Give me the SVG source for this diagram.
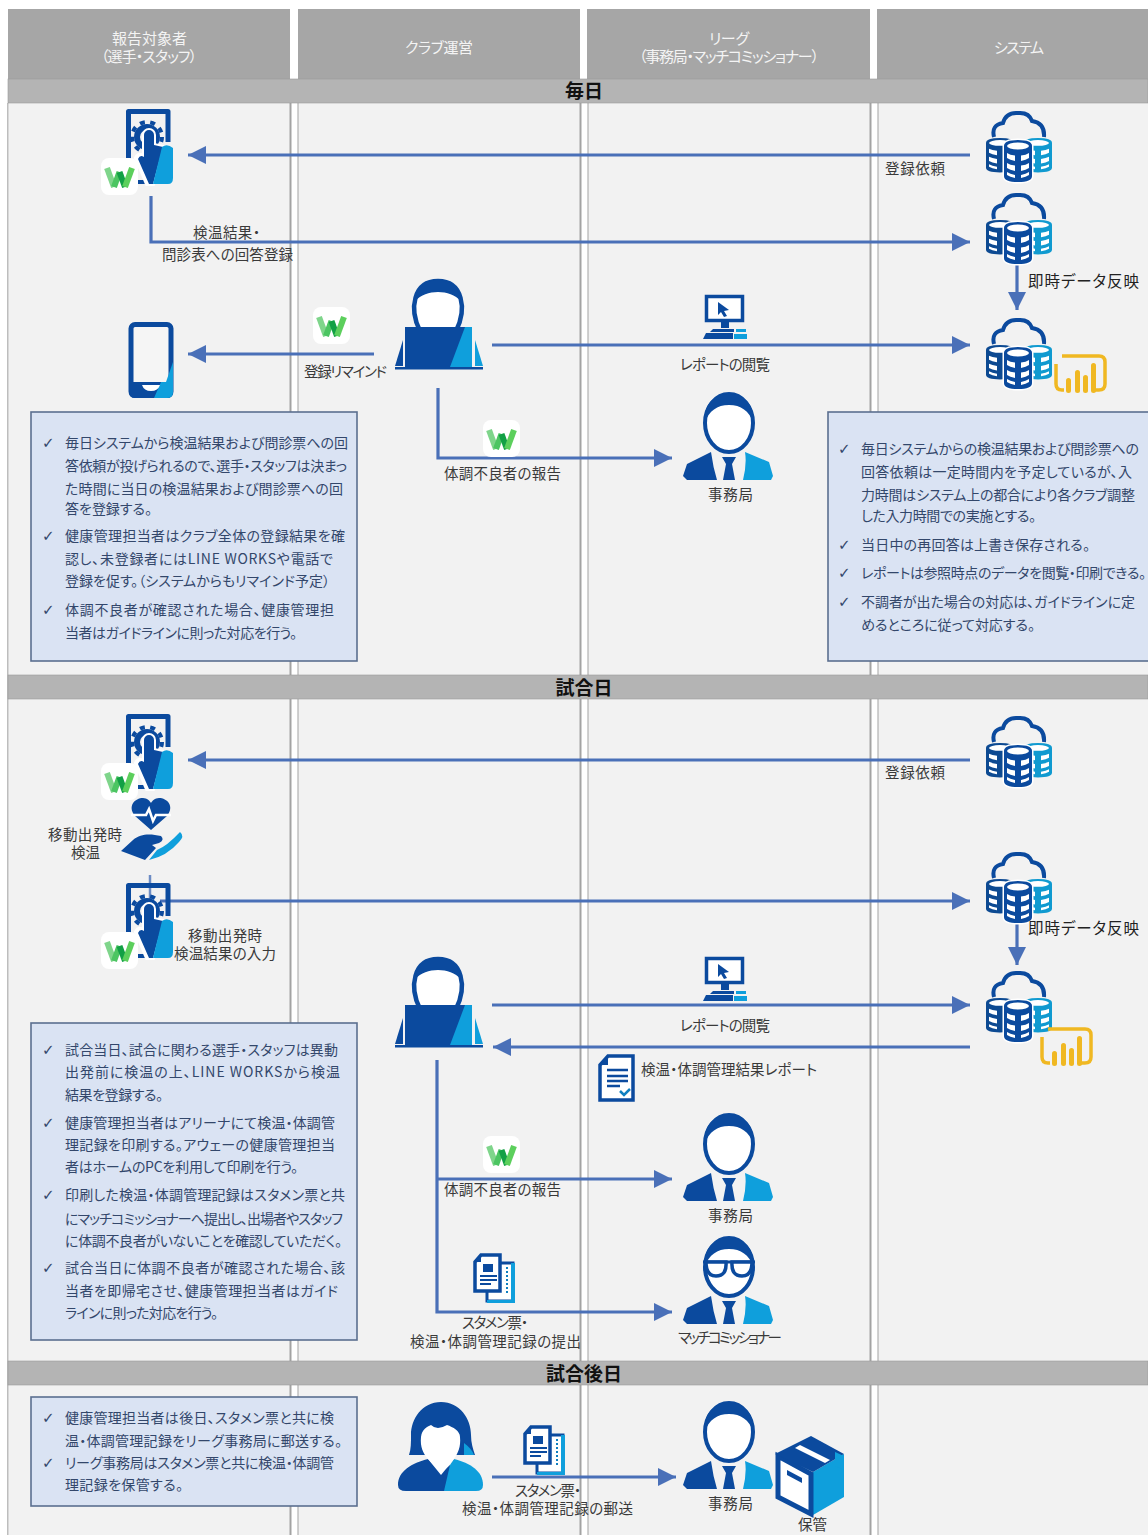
<svg xmlns="http://www.w3.org/2000/svg" width="1148" height="1535" viewBox="0 0 1148 1535">
<style>
text{font-family:"Noto Sans CJK JP","Noto Sans",sans-serif;font-size:14.5px;fill:#3a3a3a;font-feature-settings:"palt"}
.c{text-anchor:middle}
.h{fill:#f4f4f4;font-size:15px}
.b{font-size:19px;font-weight:700;fill:#111;text-anchor:middle;font-feature-settings:normal}
.n{fill:#33476b;font-size:14px}
.k{fill:#33476b;font-family:"DejaVu Sans",sans-serif;font-size:15px}
.l{font-size:15.500px;fill:#222}
.box{fill:#dae3f3;stroke:#5b6f8f;stroke-width:1.6}
.hd{fill:#a6a6a6}
.bar{fill:#b4b4b4;stroke:#999;stroke-width:.6}
.sec{fill:#f2f2f2}
.div{fill:#a3a3a3}
.ar{fill:none;stroke:#4a70b8;stroke-width:3.2}
.d{fill:#0b4a9e}
.s{fill:#0f9fdc}
.w{fill:#fff}
.o{fill:none;stroke:#0b4a9e}
.g{fill:none;stroke:#f0b822}
.gb{fill:#f0b822}
</style>
<defs>
<marker id="ah" markerUnits="userSpaceOnUse" markerWidth="20" markerHeight="20" refX="18" refY="10" orient="auto"><path d="M0 1L18 10L0 19Z" fill="#4a70b8"/></marker>
<symbol id="wl" overflow="visible">
<rect width="37" height="37" rx="8" fill="#fff"/>
<path d="M6 10L13 29" stroke="#7fd58b" stroke-width="6" fill="none"/>
<path d="M13 29L18.500 14" stroke="#4cc562" stroke-width="6" fill="none"/>
<path d="M18.500 14L24 29" stroke="#12a045" stroke-width="6" fill="none"/>
<path d="M24 29L31 10" stroke="#5ccf5c" stroke-width="6" fill="none"/>
</symbol>
<symbol id="tab" overflow="visible">
<path class="o" stroke-width="5" d="M3.500 60V3.500H43V34" stroke-linejoin="round"/>
<path d="M12 72H23V76H12Z" class="d"/>
<circle cx="22" cy="29" r="10" fill="none" stroke="#0b4a9e" stroke-width="6"/>
<circle cx="22" cy="29" r="15" fill="none" stroke="#0b4a9e" stroke-width="4" stroke-dasharray="5 5.500"/>
<path d="M19 27a5 5 0 0 1 10 0V37L38 39L28 76H22L11 50Q14 44 19 49Z" class="w" stroke="#fff" stroke-width="4"/>
<path d="M19 27a5 5 0 0 1 10 0V37L38 39L28 76H24L13 51Q15 46 19 49Z" class="d"/>
<path d="M37 39Q42 35 48 40V70Q48 76 43 76H28Z" class="s"/>
</symbol>
<symbol id="cyl" overflow="visible">
<path d="M0 6Q0 0 14 0T28 6V36Q28 42 14 42T0 36Z" style="fill:currentColor"/>
<ellipse cx="14" cy="6" rx="11" ry="3.500" class="w"/>
<path d="M3 13Q6 15 11 15.500V21Q6 20 3 18ZM25 13Q22 15 17 15.500V21Q22 20 25 18ZM3 23Q6 25 11 25.500V31Q6 30 3 28ZM25 23Q22 25 17 25.500V31Q22 30 25 28ZM3 32Q6 34 11 35V38Q6 37 3 35ZM25 32Q22 34 17 35V38Q22 37 25 35Z" class="w"/>
</symbol>
<symbol id="db" overflow="visible">
<path class="o" stroke-width="4" d="M8 27Q5 15 17 13Q20 2 32 3Q43 2 46 11Q59 13 58 27"/>
<g color="#0d4a92"><use href="#cyl" transform="translate(0 28) scale(1 .82)"/></g>
<g color="#109ad0"><use href="#cyl" transform="translate(38 28) scale(1 .82)"/></g>
<path d="M18 36Q18 30 32 30T46 36V66Q46 72 32 72T18 66Z" fill="#fff" stroke="#fff" stroke-width="3"/>
<g color="#0b4a9e"><use href="#cyl" transform="translate(18 30)"/></g>
</symbol>
<symbol id="lap" overflow="visible">
<path d="M25 52C14 30 18 2 43 2S72 30 61 52Z" fill="#fff" stroke="#0b4a9e" stroke-width="4.500"/>
<path class="d" d="M20 22C22 7 32 1 43 1S64 7 66 22C60 16 52 13 43 13S26 16 20 22Z"/>
<rect x="10" y="48" width="67" height="40" class="d"/>
<path d="M70 48H77V88H55Z" class="s"/>
<path d="M0 87L8 61V87Z" class="d"/><path d="M88 87L80 61V87Z" class="s"/>
<rect y="88" width="88" height="2.500" class="d"/>
</symbol>
<symbol id="man" overflow="visible">
<ellipse cx="46" cy="31" rx="24" ry="29" fill="#fff" stroke="#0b4a9e" stroke-width="4"/>
<path class="d" d="M22 30C20 10 34 2 46 2S72 10 70 30C66 19 58 13 46 13S26 19 22 30Z"/>
<path class="d" d="M0 84L4 72L28 60Q30 75 34 88H4Z"/>
<path class="s" d="M60 88Q64 72 62 60L86 70L90 84L88 88Z"/>
<path class="d" d="M39 65H53L49 72L52 88H40L43 72Z"/>
</symbol>
<symbol id="manG" overflow="visible">
<use href="#man"/>
<path fill="none" stroke="#0b4a9e" stroke-width="3" d="M20 26H72"/>
<path fill="#fff" stroke="#0b4a9e" stroke-width="3.500" d="M23 26H43Q44 40 33 40Q23 40 23 26ZM49 26H69Q69 40 59 40Q48 40 49 26Z"/>
</symbol>
<symbol id="wom" overflow="visible">
<path class="d" d="M43 1C62 1 73 18 73 34C73 42 75 48 77 54H11C13 48 13 42 13 34C13 18 24 1 43 1Z"/>
<path class="s" d="M66 42Q74 48 76 54H66Z"/>
<path class="d" d="M0 84C0 70 14 62 30 58L43 72L52 64V90H8Q0 90 0 84Z"/>
<path class="s" d="M52 64L56 58C72 62 85 70 85 84Q85 90 78 90H46Z"/>
<path class="w" d="M23 36C24 28 29 26 33 24Q39 30 49 24C55 26 62 30 62 36C63 46 60 52 56 58L43 74L30 58C25 52 22 46 23 36Z"/>
</symbol>
<symbol id="pc" overflow="visible">
<rect x="3.500" y="1.500" width="36" height="24" fill="#fff" stroke="#0b4a9e" stroke-width="3.500"/>
<path d="M15 7L26 15L21 16L24 21L21 22L18 17L15 20Z" class="d"/>
<path d="M18 27H26V33H18Z" class="d"/>
<path d="M3 38H30V44H0Z" class="d"/>
<path d="M31 39H44V44H31ZM33 34H43V37H33Z" class="s"/>
<path d="M10 34H31V37H7Z" class="d"/>
</symbol>
<symbol id="ph" overflow="visible">
<rect x="3" y="2.500" width="40" height="71" rx="4" fill="#f5f5f5" stroke="#0b4a9e" stroke-width="5"/>
<path class="d" d="M1 60H45V70Q45 76 39 76H7Q1 76 1 70Z"/>
<path class="s" d="M33 60H45V70Q45 76 39 76H26Z"/>
<path d="M14 63H32Q30 69 23 69T14 63Z" class="w"/>
<path d="M45 40V60H38Z" class="s"/>
</symbol>
<symbol id="pbi" overflow="visible">
<path class="g" stroke-width="3.500" d="M8 2H45Q51 2 51 8V30Q51 36 45 36H40M10 36H8Q2 36 2 30V10"/>
<rect x="12" y="24" width="5" height="15" rx="2.500" class="gb"/>
<rect x="21" y="16" width="5" height="23" rx="2.500" class="gb"/>
<rect x="29" y="21" width="5" height="18" rx="2.500" class="gb"/>
<rect x="37" y="9" width="5" height="30" rx="2.500" class="gb"/>
</symbol>
<symbol id="hh" overflow="visible">
<path class="d" d="M20 32L4 18C-4 8 4 0 12 0C16 0 19 3 20 5C21 3 24 0 28 0C36 0 44 8 36 18Z"/>
<path d="M0 17H15L18 11L22 23L25 17H40" fill="none" stroke="#fff" stroke-width="2.500"/>
<path class="d" d="M-10 53L2 42C10 35 20 36 30 38Q34 42 28 45L21 47L25 50L14 62Z"/>
<path class="s" d="M26 52Q36 48 49 34Q54 38 48 44Q36 58 18 62Z"/>
</symbol>
<symbol id="doc" overflow="visible">
<path fill="#fff" stroke="#0b4a9e" stroke-width="3.500" d="M10 2H35V46H2V11Z"/>
<path class="d" d="M10 2V11H2Z"/>
<path stroke="#0b4a9e" stroke-width="2.500" d="M9 16H30M9 22H30M9 27H30M9 32H22" fill="none"/>
<path d="M22 37L26 41L32 35" fill="none" stroke="#0f7fc0" stroke-width="2.500"/>
</symbol>
<symbol id="docs" overflow="visible">
<path fill="#fff" stroke="#0b4a9e" stroke-width="3" d="M14 10H40V48H14Z"/>
<path class="s" d="M38 10H42V50H14V47H38Z"/>
<path fill="#fff" stroke="#0b4a9e" stroke-width="3.500" d="M8 2H27V38H2V9Z"/>
<path class="d" d="M8 2V9H2ZM10 11H20V19H10Z"/>
<path stroke="#0b4a9e" stroke-width="2.200" d="M7 23H24M7 27H24M7 31H18" fill="none"/>
<path stroke="#0f7fc0" stroke-width="2" stroke-dasharray="2 2" d="M34 14V42" fill="none"/>
</symbol>
<symbol id="bx" overflow="visible">
<path class="s" d="M38 79L69 61V18L38 36Z"/>
<path fill="#fff" stroke="#0b4a9e" stroke-width="5" d="M3 20V61L36 78V38Z"/>
<path class="d" d="M0 18L36 0L69 18L38 36Z"/>
<path class="w" d="M20 12L25 9L55 24L50 27Z"/>
<path class="d" d="M12 34L27 42V47L12 39Z"/>
<path class="s" d="M60 16L69 20V34L60 30Z"/>
</symbol>
</defs>

<rect width="1148" height="1535" fill="#fff"/>
<g id="frame">
<rect class="sec" x="8" y="103" width="1140" height="572"/>
<rect class="sec" x="8" y="699" width="1140" height="662"/>
<rect class="sec" x="8" y="1385" width="1140" height="150"/>
<rect x="7" y="103" width="1.500" height="1432" fill="#bdbdbd"/>
<g id="dividers">
<rect x="290" y="103" width="8" height="1432" fill="#fff"/><rect class="div" x="289.500" y="103" width="2" height="1432"/><rect class="div" x="297.500" y="103" width="1" height="1432"/>
<rect x="580" y="103" width="8" height="1432" fill="#fff"/><rect class="div" x="579.500" y="103" width="2" height="1432"/><rect class="div" x="587.500" y="103" width="1" height="1432"/>
<rect x="870" y="103" width="8" height="1432" fill="#fff"/><rect class="div" x="869.500" y="103" width="2" height="1432"/><rect class="div" x="877.500" y="103" width="1" height="1432"/>
</g>
</g>
<g id="headers">
<rect class="hd" x="8" y="9" width="282" height="70"/>
<rect class="hd" x="298" y="9" width="282" height="70"/>
<rect class="hd" x="587" y="9" width="283" height="70"/>
<rect class="hd" x="877" y="9" width="271" height="70"/>
<text class="h" x="112" y="44" textLength="75">報告対象者</text><text class="h" x="101" y="62" textLength="96">（選手・スタッフ）</text>
<text class="h" x="405" y="53" textLength="68">クラブ運営</text>
<text class="h" x="709" y="44" textLength="40">リーグ</text><text class="h" x="639" y="62" textLength="180">（事務局・マッチコミッショナー）</text>
<text class="h" x="994" y="53" textLength="50">システム</text>
</g>
<g id="section-bars">
<rect class="bar" x="8" y="79" width="1140" height="24"/><text class="b" x="584" y="98">毎日</text>
<rect class="bar" x="8" y="675" width="1140" height="24"/><text class="b" x="584" y="695">試合日</text>
<rect class="bar" x="8" y="1361" width="1140" height="24"/><text class="b" x="584" y="1381">試合後日</text>
</g>

<g id="connectors">
<path class="ar" marker-end="url(#ah)" d="M970 155H188"/>
<path class="ar" marker-end="url(#ah)" d="M151 196V242H970"/>
<path class="ar" marker-end="url(#ah)" d="M374 354H188"/>
<path class="ar" marker-end="url(#ah)" d="M492 345H970"/>
<path class="ar" marker-end="url(#ah)" d="M438 388V458H672"/>
<path class="ar" marker-end="url(#ah)" d="M1017 262V310"/>
<path class="ar" marker-end="url(#ah)" d="M970 760H188"/>
<path d="M150 875V901" fill="none" stroke="#6d8cc4" stroke-width="2.500"/>
<path class="ar" marker-end="url(#ah)" d="M160 901H970"/>
<path class="ar" marker-end="url(#ah)" d="M1017 920V965"/>
<path class="ar" marker-end="url(#ah)" d="M492 1005H970"/>
<path class="ar" marker-end="url(#ah)" d="M970 1047H493"/>
<path class="ar" marker-end="url(#ah)" d="M437 1060V1312H672"/>
<path class="ar" marker-end="url(#ah)" d="M437 1179H672"/>
<path class="ar" marker-end="url(#ah)" d="M492 1477H676"/>
</g>

<g id="n-tablet-1"><use href="#tab" x="125" y="108"/><use href="#wl" x="101" y="158"/></g>
<g id="n-db-1"><use href="#db" x="986" y="110"/></g>
<g id="n-db-2"><use href="#db" x="986" y="192"/></g>
<g id="n-db-3"><use href="#db" x="986" y="317"/><use href="#pbi" x="1054" y="354"/></g>
<g id="n-phone"><use href="#ph" x="128" y="322"/></g>
<g id="n-wl-remind"><use href="#wl" x="313" y="307"/></g>
<g id="n-laptop-1"><use href="#lap" x="395" y="279"/></g>
<g id="n-pc-1"><use href="#pc" x="703" y="295"/></g>
<g id="n-wl-report-1"><use href="#wl" x="483" y="420"/></g>
<g id="n-office-1"><use href="#man" x="683" y="392"/></g>

<g id="n-tablet-2"><use href="#tab" x="125" y="713"/><use href="#wl" x="101" y="763"/></g>
<g id="n-heart"><use href="#hh" x="131" y="798"/></g>
<g id="n-tablet-3"><use href="#tab" x="125" y="882"/><use href="#wl" x="101" y="932"/></g>
<g id="n-db-4"><use href="#db" x="986" y="715"/></g>
<g id="n-db-5"><use href="#db" x="986" y="851"/></g>
<g id="n-db-6"><use href="#db" x="986" y="970"/><use href="#pbi" x="1040" y="1027"/></g>
<g id="n-laptop-2"><use href="#lap" x="395" y="957"/></g>
<g id="n-pc-2"><use href="#pc" x="703" y="957"/></g>
<g id="n-doc"><use href="#doc" x="598" y="1054"/></g>
<g id="n-wl-report-2"><use href="#wl" x="483" y="1136"/></g>
<g id="n-office-2"><use href="#man" x="683" y="1113"/></g>
<g id="n-docs-1"><use href="#docs" x="473" y="1253"/></g>
<g id="n-commissioner"><use href="#manG" x="683" y="1236"/></g>
<g id="n-woman"><use href="#wom" x="398" y="1401"/></g>
<g id="n-docs-2"><use href="#docs" x="523" y="1425"/></g>
<g id="n-office-3"><use href="#man" x="683" y="1401"/></g>
<g id="n-box"><use href="#bx" x="775" y="1436"/></g>

<g id="labels">
<text x="885" y="174" textLength="60">登録依頼</text>
<text x="193" y="238" textLength="67">検温結果・</text>
<text x="162" y="260" textLength="131">問診表への回答登録</text>
<text class="l" x="1028" y="287" textLength="111">即時データ反映</text>
<text x="304" y="377" textLength="83">登録リマインド</text>
<text x="680" y="370" textLength="90">レポートの閲覧</text>
<text x="444" y="479" textLength="117">体調不良者の報告</text>
<text x="708" y="500" textLength="45">事務局</text>
<text x="885" y="778" textLength="60">登録依頼</text>
<text x="48" y="840" textLength="74">移動出発時</text>
<text x="71" y="858" textLength="29">検温</text>
<text x="188" y="941" textLength="74">移動出発時</text>
<text x="174" y="959" textLength="102">検温結果の入力</text>
<text class="l" x="1028" y="934" textLength="111">即時データ反映</text>
<text x="680" y="1031" textLength="90">レポートの閲覧</text>
<text x="641" y="1075" textLength="176">検温・体調管理結果レポート</text>
<text x="444" y="1195" textLength="117">体調不良者の報告</text>
<text x="708" y="1221" textLength="45">事務局</text>
<text x="462" y="1328" textLength="66">スタメン票・</text>
<text x="410" y="1347" textLength="171">検温・体調管理記録の提出</text>
<text x="678" y="1343" textLength="104">マッチコミッショナー</text>
<text x="515" y="1496" textLength="66">スタメン票・</text>
<text x="462" y="1514" textLength="171">検温・体調管理記録の郵送</text>
<text x="708" y="1509" textLength="45">事務局</text>
<text x="798" y="1530" textLength="29">保管</text>
</g>

<g id="note-1">
<rect class="box" x="31" y="412" width="326" height="249"/>
<text class="k" x="42" y="448">✓</text><text class="k" x="42" y="541">✓</text><text class="k" x="42" y="615">✓</text>
<text class="n" x="65" y="448" textLength="283">毎日システムから検温結果および問診票への回</text>
<text class="n" x="65" y="471" textLength="282">答依頼が投げられるので、選手・スタッフは決まっ</text>
<text class="n" x="65" y="494" textLength="278">た時間に当日の検温結果および問診票への回</text>
<text class="n" x="65" y="514" textLength="87">答を登録する。</text>
<text class="n" x="65" y="541" textLength="280">健康管理担当者はクラブ全体の登録結果を確</text>
<text class="n" x="65" y="564" textLength="268">認し、未登録者にはLINE WORKSや電話で</text>
<text class="n" x="65" y="586" textLength="265">登録を促す。（システムからもリマインド予定）</text>
<text class="n" x="65" y="615" textLength="269">体調不良者が確認された場合、健康管理担</text>
<text class="n" x="65" y="638" textLength="232">当者はガイドラインに則った対応を行う。</text>
</g>
<g id="note-2">
<rect class="box" x="828" y="412" width="322" height="249"/>
<text class="k" x="838" y="454">✓</text><text class="k" x="838" y="550">✓</text><text class="k" x="838" y="578">✓</text><text class="k" x="838" y="607">✓</text>
<text class="n" x="861" y="454" textLength="278">毎日システムからの検温結果および問診票への</text>
<text class="n" x="861" y="477" textLength="271">回答依頼は一定時間内を予定しているが、入</text>
<text class="n" x="861" y="500" textLength="274">力時間はシステム上の都合により各クラブ調整</text>
<text class="n" x="861" y="521" textLength="175">した入力時間での実施とする。</text>
<text class="n" x="861" y="550" textLength="229">当日中の再回答は上書き保存される。</text>
<text class="n" x="861" y="578" textLength="285">レポートは参照時点のデータを閲覧・印刷できる。</text>
<text class="n" x="861" y="607" textLength="274">不調者が出た場合の対応は、ガイドラインに定</text>
<text class="n" x="861" y="630" textLength="174">めるところに従って対応する。</text>
</g>
<g id="note-3">
<rect class="box" x="31" y="1023" width="326" height="317"/>
<text class="k" x="42" y="1055">✓</text><text class="k" x="42" y="1128">✓</text><text class="k" x="42" y="1200">✓</text><text class="k" x="42" y="1273">✓</text>
<text class="n" x="65" y="1055" textLength="273">試合当日、試合に関わる選手・スタッフは異動</text>
<text class="n" x="65" y="1077" textLength="275">出発前に検温の上、LINE WORKSから検温</text>
<text class="n" x="65" y="1100" textLength="98">結果を登録する。</text>
<text class="n" x="65" y="1128" textLength="270">健康管理担当者はアリーナにて検温・体調管</text>
<text class="n" x="65" y="1150" textLength="270">理記録を印刷する。アウェーの健康管理担当</text>
<text class="n" x="65" y="1172" textLength="233">者はホームのPCを利用して印刷を行う。</text>
<text class="n" x="65" y="1200" textLength="280">印刷した検温・体調管理記録はスタメン票と共</text>
<text class="n" x="65" y="1224" textLength="278">にマッチコミッショナーへ提出し、出場者やスタッフ</text>
<text class="n" x="65" y="1246" textLength="277">に体調不良者がいないことを確認していただく。</text>
<text class="n" x="65" y="1273" textLength="280">試合当日に体調不良者が確認された場合、該</text>
<text class="n" x="65" y="1296" textLength="273">当者を即帰宅させ、健康管理担当者はガイド</text>
<text class="n" x="65" y="1318" textLength="153">ラインに則った対応を行う。</text>
</g>
<g id="note-4">
<rect class="box" x="31" y="1397" width="326" height="109"/>
<text class="k" x="42" y="1423">✓</text><text class="k" x="42" y="1468">✓</text>
<text class="n" x="65" y="1423" textLength="269">健康管理担当者は後日、スタメン票と共に検</text>
<text class="n" x="65" y="1446" textLength="277">温・体調管理記録をリーグ事務局に郵送する。</text>
<text class="n" x="65" y="1468" textLength="269">リーグ事務局はスタメン票と共に検温・体調管</text>
<text class="n" x="65" y="1490" textLength="118">理記録を保管する。</text>
</g>
</svg>
